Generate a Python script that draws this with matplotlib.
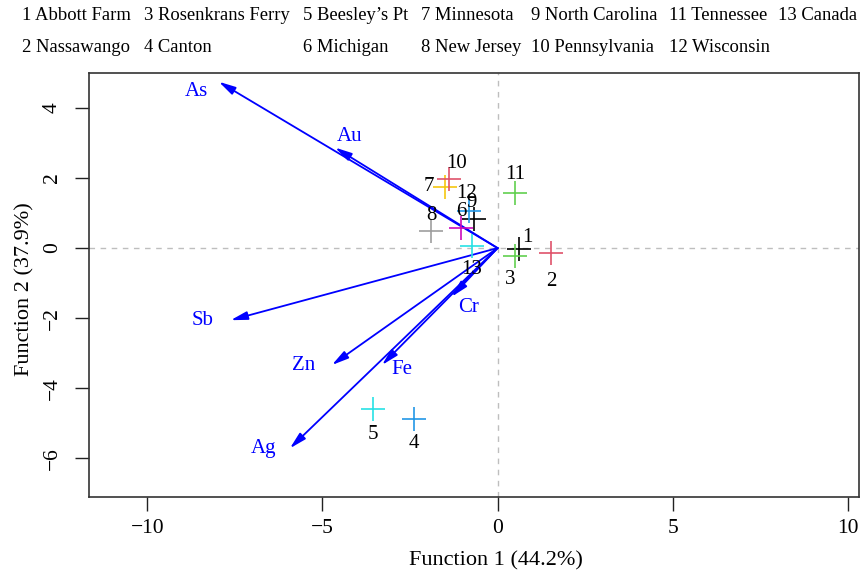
import matplotlib
matplotlib.use("Agg")
import matplotlib.pyplot as plt

# sites (scores on the two discriminant functions)
SITE_IDS = ["1", "2", "3", "4", "5", "6", "7", "8", "9", "10", "11", "12", "13"]
SITE_NAMES = ["Abbott Farm", "Nassawango", "Rosenkrans Ferry", "Canton",
              "Beesley\u2019s Pt", "Michigan", "Minnesota", "New Jersey",
              "North Carolina", "Pennsylvania", "Tennessee", "Wisconsin", "Canada"]
SITE_F1 = [0.61, 1.53, 0.51, -2.39, -3.56, -1.03, -1.51, -1.89, -0.66, -1.39, 0.49, -0.82, -0.74]
SITE_F2 = [-0.04, -0.15, -0.22, -4.89, -4.61, 0.56, 1.75, 0.50, 0.83, 1.97, 1.58, 1.06, 0.06]

# element loadings (arrow tips) and where their names sit
ELEMENTS = ["As", "Au", "Sb", "Zn", "Fe", "Cr", "Ag"]
ELEM_F1 = [-7.96, -4.64, -7.62, -4.73, -3.30, -1.31, -5.93]
ELEM_F2 = [4.75, 2.87, -2.06, -3.34, -3.34, -1.39, -5.72]
ELEM_LABEL_F1 = [-8.59, -4.21, -8.43, -5.53, -2.73, -0.83, -6.69]
ELEM_LABEL_F2 = [4.46, 3.20, -2.06, -3.34, -3.46, -1.69, -5.72]

X_TICKS = [-10, -5, 0, 5, 10]
Y_TICKS = [-6, -4, -2, 0, 2, 4]

# R 4.x default palette, recycled over the 13 sites
PALETTE = ["black", "#DF536B", "#61D04F", "#2297E6", "#28E2E5", "#CD0BBC", "#F5C710", "#9E9E9E"]
colors = [PALETTE[i % len(PALETTE)] for i in range(len(SITE_IDS))]

# label offsets in pixels (dx, dy) for each site number
label_offsets = [(8, 12), (0, -28), (-5, -24), (0, -24), (0, -25), (0, 17), (-16, 0),
                 (0, 15), (-3, 17), (8, 16), (0, 18), (-2, 17), (0, -24)]

plt.rcParams["font.family"] = ["Liberation Serif", "DejaVu Serif"]
FS_LEG = 13.4
FS_IN = 15
FS_TICK = 15.5
FS_LAB = 16

fig = plt.figure(figsize=(8.6, 5.73), dpi=100)
ax = fig.add_axes([89 / 860, 1 - 497 / 573, 770 / 860, 424 / 573])

ax.axhline(0, color="#BEBEBE", linestyle=(0, (4, 4)), linewidth=1, zorder=1)
ax.axvline(0, color="#BEBEBE", linestyle=(0, (4, 4)), linewidth=1, zorder=1)

for x, y in zip(ELEM_F1, ELEM_F2):
    ax.annotate("", xy=(x, y), xytext=(0, 0),
                arrowprops=dict(arrowstyle="-|>,head_length=1.0,head_width=0.25",
                                color="blue", lw=1.3, shrinkA=0, shrinkB=0),
                zorder=3)
for name, x, y in zip(ELEMENTS, ELEM_LABEL_F1, ELEM_LABEL_F2):
    ax.text(x, y, name, color="blue", fontsize=FS_IN, ha="center", va="center", zorder=4)

for sid, x, y, c, (dx, dy) in zip(SITE_IDS, SITE_F1, SITE_F2, colors, label_offsets):
    ax.plot(x, y, marker="+", markersize=17, markeredgewidth=1.2, color=c,
            linestyle="none", zorder=5)
    ax.annotate(sid, xy=(x, y), xytext=(dx * 0.72, dy * 0.72), textcoords="offset points",
                ha="center", va="center", fontsize=FS_IN, color="black", zorder=6)

ax.set_xlim(-11.665, 10.32)
ax.set_ylim(-7.11, 5.0)
ax.set_xticks(X_TICKS)
ax.set_yticks(Y_TICKS)
ax.set_xticklabels([str(t).replace("-", "\u2212") for t in X_TICKS], fontsize=FS_TICK)
ax.set_yticklabels([str(t).replace("-", "\u2212") for t in Y_TICKS], fontsize=FS_TICK,
                   rotation=90, va="center")
ax.tick_params(length=10, width=1, color="#222222")
ax.tick_params(axis="x", pad=5.5)
ax.tick_params(axis="y", pad=9.5)
for s in ax.spines.values():
    s.set_linewidth(1.2)
    s.set_color("#333333")

ax.set_xlabel("Function 1 (44.2%)", fontsize=FS_LAB)
ax.xaxis.set_label_coords(0.5286, -0.127)
ax.set_ylabel("Function 2 (37.9%)", fontsize=FS_LAB)
ax.yaxis.set_label_coords(-0.071, 0.49)

# legend text, two rows across the top
col_x = [22, 144, 303, 421, 531, 669, 778]
row_y = [16, 48]
for i, (sid, name) in enumerate(zip(SITE_IDS, SITE_NAMES)):
    col, row = i // 2, i % 2
    fig.text(col_x[col] / 860, 1 - row_y[row] / 573, f"{sid} {name}",
             fontsize=FS_LEG, ha="left", va="center")

fig.savefig("out.png", dpi=100)
